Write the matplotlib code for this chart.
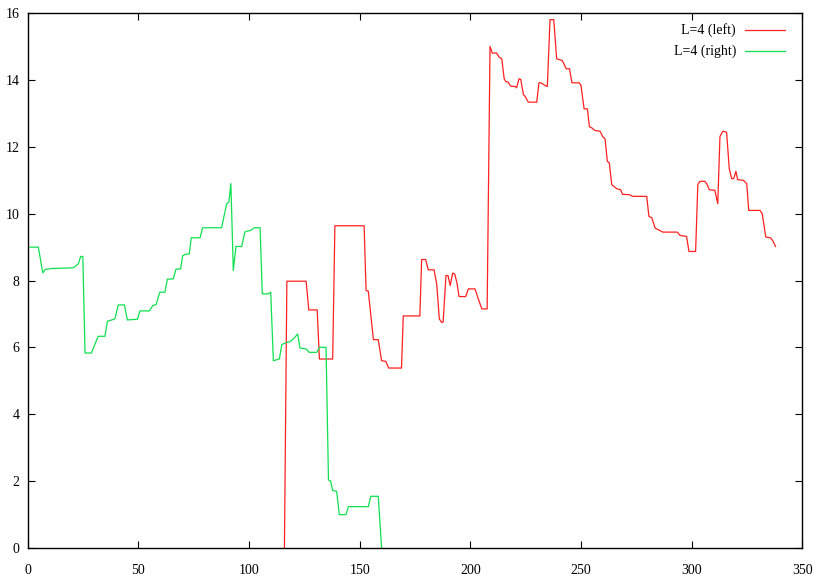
import matplotlib
matplotlib.use("Agg")
import matplotlib.pyplot as plt
from matplotlib.lines import Line2D

# L=4 (right) -- green series
right_x = [1, 4.8, 6.8, 7.9, 10.8, 20.6, 22.9, 23.9, 24.9, 25.9, 28.8, 31.8, 34.9, 36, 39.4,
           40.9, 43.7, 45, 49.6, 50.7, 55, 56.5, 58, 59.7, 62, 63.1, 65.8, 67, 69.1, 70, 71.1,
           73, 73.9, 77.9, 79, 87.6, 89.9, 90.9, 91.8, 92.9, 94.1, 96.7, 98.1, 99.2, 100.7,
           102.4, 105, 106, 108.7, 109.8, 111, 113.7, 114.8, 117, 118.5, 120, 122, 123, 125.8,
           127.2, 130.6, 131.8, 134.8, 135.9, 136.9, 137.8, 139.6, 140.8, 143.8, 144.9, 153.9,
           155, 158.4, 159.9]
right_y = [9.0, 9.0, 8.23, 8.33, 8.36, 8.38, 8.5, 8.72, 8.72, 5.83, 5.83, 6.33, 6.33, 6.78, 6.85,
           7.27, 7.27, 6.82, 6.84, 7.09, 7.09, 7.25, 7.28, 7.65, 7.65, 8.04, 8.05, 8.34, 8.35,
           8.74, 8.78, 8.8, 9.28, 9.28, 9.58, 9.58, 10.3, 10.35, 10.9, 8.3, 9.02, 9.02, 9.45,
           9.48, 9.5, 9.58, 9.58, 7.6, 7.6, 7.65, 5.6, 5.65, 6.08, 6.15, 6.17, 6.25, 6.4, 5.98,
           5.95, 5.85, 5.85, 6.0, 6.0, 2.03, 1.99, 1.71, 1.69, 0.99, 0.99, 1.23, 1.23, 1.54,
           1.54, 0.0]

# L=4 (left) -- red series
left_x = [116, 117.1, 125.8, 127, 130.8, 131.8, 137.8, 138.8, 152, 152.9, 153.9, 156.2, 158.4,
          159.9, 161.8, 163.1, 168.9, 169.7, 177.2, 178, 179.8, 181, 183.6, 184.8, 186, 187,
          187.7, 189, 189.9, 190.9, 192, 192.9, 193.9, 194.9, 197.9, 199.1, 202.1, 203.6, 205.2,
          207.6, 208.9, 209.9, 211.9, 213, 214.2, 215.3, 216, 217.1, 218.2, 220.2, 220.9, 222,
          222.8, 224, 224.7, 226.2, 230, 231, 231.9, 233.8, 234.8, 236, 237.7, 239, 241.3,
          241.7, 243.3, 244.8, 245.9, 249.2, 250, 251.4, 252.9, 253.8, 254.9, 256.4, 258.6,
          259.8, 260.9, 261.9, 262.8, 263.9, 264.9, 266.1, 267.9, 268.8, 271.9, 273.4, 279.7,
          280.7, 282, 283.5, 285, 286.9, 293.5, 294.8, 297.7, 298.8, 301.8, 302.8, 303.8, 306,
          306.8, 308, 310.5, 311.8, 312.8, 314.1, 315.8, 317, 318.1, 319, 320, 320.8, 323.4,
          324.9, 325.8, 330.9, 331.9, 333.5, 335.6, 336.6, 337.9]
left_y = [0.0, 7.98, 7.98, 7.12, 7.12, 5.65, 5.65, 9.64, 9.64, 7.7, 7.68, 6.23, 6.23, 5.6, 5.58,
          5.38, 5.38, 6.94, 6.94, 8.63, 8.63, 8.32, 8.32, 7.9, 6.85, 6.75, 6.75, 8.15, 8.15,
          7.85, 8.22, 8.2, 7.95, 7.52, 7.52, 7.75, 7.75, 7.45, 7.15, 7.15, 15.01, 14.81, 14.81,
          14.69, 14.64, 14.04, 13.96, 13.94, 13.82, 13.81, 13.77, 14.04, 14.02, 13.56, 13.52,
          13.34, 13.34, 13.92, 13.92, 13.84, 13.81, 15.81, 15.81, 14.64, 14.59, 14.57, 14.34,
          14.34, 13.92, 13.92, 13.84, 13.14, 13.14, 12.61, 12.57, 12.49, 12.47, 12.31, 12.24,
          11.57, 11.52, 10.87, 10.82, 10.75, 10.72, 10.58, 10.57, 10.52, 10.52, 9.92, 9.88,
          9.57, 9.52, 9.45, 9.45, 9.35, 9.32, 8.87, 8.87, 10.88, 10.97, 10.97, 10.9, 10.72,
          10.7, 10.3, 12.31, 12.47, 12.44, 11.35, 11.05, 11.05, 11.27, 11.02, 11.0, 10.9, 10.1,
          10.1, 10.0, 9.3, 9.28, 9.2, 9.02]

red = '#ff2020'
green = '#10e050'

plt.rcParams['font.family'] = ['Liberation Serif', 'DejaVu Serif']

fig = plt.figure(figsize=(8.2, 5.87), dpi=100)
ax = fig.add_axes([0.0338, 0.0669, 0.9446, 0.9104])

ax.plot(left_x, left_y, color=red, lw=0.9)
ax.plot(right_x, right_y, color=green, lw=0.9)

ax.set_xlim(0, 350)
ax.set_ylim(0, 16)
ax.set_xticks(range(0, 351, 50))
ax.set_yticks(range(0, 17, 2))
ax.tick_params(direction='in', top=True, right=True, length=5, width=0.8,
               labelsize=10, colors='black')
ax.tick_params(axis='x', pad=12)
ax.tick_params(axis='y', pad=6)
for s in ax.spines.values():
    s.set_linewidth(1.0)

# gnuplot-style key: right-aligned text, sample line on the right
labels = ['L=4 (left)', 'L=4 (right)']
colors = [red, green]
rows = [0.9687, 0.9293]
for lab, col, yy in zip(labels, colors, rows):
    ax.text(0.9144, yy, lab, transform=ax.transAxes, ha='right', va='center', fontsize=10)
    ax.add_line(Line2D([0.926, 0.978], [yy, yy], transform=ax.transAxes, color=col, lw=0.9))

fig.savefig('out.png', dpi=100)
